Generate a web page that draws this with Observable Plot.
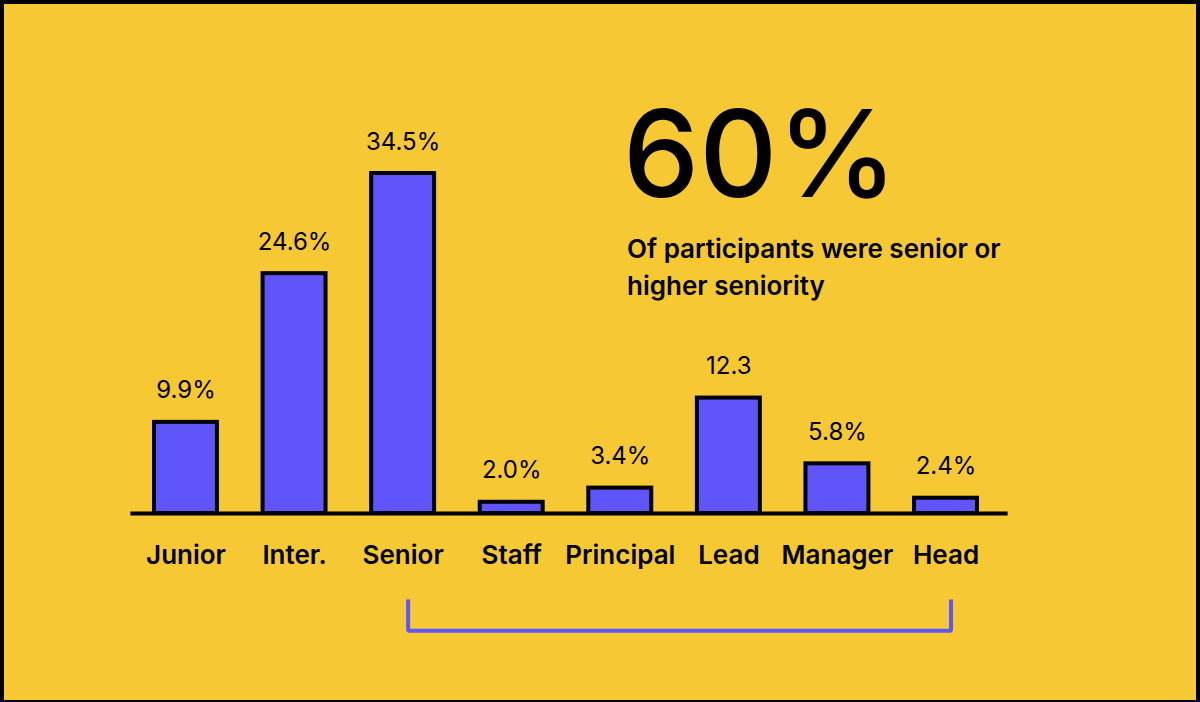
<!DOCTYPE html>
<html>
<head>
<meta charset="utf-8">
<script src="https://cdn.jsdelivr.net/npm/d3@7"></script>
<script src="https://cdn.jsdelivr.net/npm/@observablehq/plot@0.6"></script>
<style>
  html, body { margin: 0; padding: 0; background: #F6C934; }
  #wrap { position: relative; width: 1200px; height: 702px; background: #F6C934; overflow: hidden; font-family: Inter, "Open Sans", sans-serif; }
  #frame { position: absolute; left: 0; top: 0; width: 1200px; height: 702px; box-sizing: border-box; border: 4px solid #000; border-bottom-width: 2px; pointer-events: none; }
  #big { position: absolute; left: 623px; top: 93px; font-size: 121px; font-weight: 500; letter-spacing: 0px; line-height: 1; color: #000; }
  #sub { position: absolute; left: 627px; top: 230px; font-size: 26px; font-weight: 600; line-height: 37px; color: #000; width: 440px; }
  #chart { position: absolute; left: 0; top: 0; }
</style>
</head>
<body>
<div id="wrap">
  <div id="chart"></div>
  <div id="big">60%</div>
  <div id="sub">Of participants were senior or<br>higher seniority</div>
  <div id="frame"></div>
</div>
<script>
const categories = ["Junior", "Inter.", "Senior", "Staff", "Principal", "Lead", "Manager", "Head"];
const values = [9.9, 24.6, 34.5, 2.0, 3.4, 12.3, 5.8, 2.4];
const valueLabels = ["9.9%", "24.6%", "34.5%", "2.0%", "3.4%", "12.3", "5.8%", "2.4%"];
const bracketSpan = ["Senior", "Head"];

const data = categories.map((c, i) => ({cat: c, val: values[i], label: valueLabels[i]}));

const purple = "#5F55FA";
const bracketDepth = [-7.8, -10.7];
const bracketPts = [
  {cat: bracketSpan[0], v: bracketDepth[0]},
  {cat: bracketSpan[0], v: bracketDepth[1]},
  {cat: bracketSpan[1], v: bracketDepth[1]},
  {cat: bracketSpan[1], v: bracketDepth[0]}
];

const chart = Plot.plot({
  width: 1200,
  height: 702,
  marginLeft: 108.4,
  marginRight: 177.4,
  marginTop: 173,
  marginBottom: 180,
  style: {background: "transparent", fontFamily: "Inter, sans-serif", overflow: "visible"},
  x: {domain: categories, padding: 0.42, round: false, axis: null},
  y: {domain: [0, 34.5], axis: null},
  marks: [
    Plot.barY(data, {x: "cat", y: "val", fill: purple, stroke: "#000", strokeWidth: 4, insetBottom: 9}),
    Plot.ruleY([0], {dy: -9, stroke: "#000", strokeWidth: 4, insetLeft: 22, insetRight: 15}),
    Plot.text(data, {x: "cat", y: "val", text: "label", dy: -24, lineAnchor: "bottom", fontSize: 24, fill: "#000", fontWeight: 400}),
    Plot.text(data, {x: "cat", y: 0, text: "cat", dy: 23, lineAnchor: "top", fontSize: 26, fontWeight: 600, fill: "#000"}),
    Plot.line(bracketPts, {x: "cat", y: "v", stroke: purple, strokeWidth: 4, dx: 5, strokeLinejoin: "miter", strokeLinecap: "square"})
  ]
});
document.getElementById("chart").appendChild(chart);
</script>
</body>
</html>
